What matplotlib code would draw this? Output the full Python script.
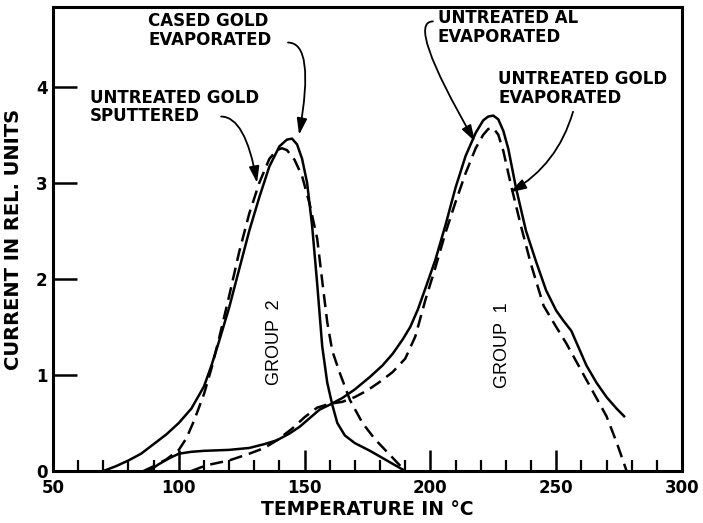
import matplotlib
matplotlib.use("Agg")
import matplotlib.pyplot as plt
from matplotlib.ticker import MultipleLocator

# group 2 curves
cased_x = [70, 75, 80, 85, 90, 95, 100, 105, 110, 113, 116, 120, 124, 128, 132, 136, 140, 143, 145,
           147, 149, 151, 153, 155, 157, 159, 161, 163, 166, 170, 176, 182, 186, 190]
cased_y = [0, 0.05, 0.11, 0.18, 0.28, 0.38, 0.5, 0.65, 0.88, 1.1, 1.35, 1.7, 2.1, 2.5, 2.85, 3.17, 3.38, 3.45, 3.46,
           3.4, 3.25, 3.0, 2.55, 1.95, 1.3, 0.92, 0.69, 0.5, 0.37, 0.29, 0.21, 0.12, 0.06, 0.0]

sputt_x = [86, 90, 95, 100, 103, 106, 110, 113, 116, 120, 124, 128, 132, 136, 139, 141, 143, 146, 149,
           152, 155, 157, 159, 161, 164, 168, 173, 178, 182, 186, 190]
sputt_y = [0, 0.05, 0.12, 0.22, 0.34, 0.52, 0.8, 1.07, 1.38, 1.82, 2.28, 2.68, 3.0, 3.25, 3.34, 3.36, 3.34, 3.24, 3.07,
           2.78, 2.42, 1.98, 1.55, 1.25, 1.02, 0.74, 0.5, 0.33, 0.22, 0.11, 0.0]

# group 1 curves
al_x = [88, 92, 96, 100, 105, 110, 120, 128, 134, 139, 144, 148, 152, 156, 160, 165, 170, 176, 181, 185, 189,
        192, 195, 198, 202, 206, 210, 214, 218, 221, 223, 225, 227, 229, 231, 234, 238, 242, 246, 250, 253,
        256, 258, 262, 266, 270, 274, 277]
al_y = [0, 0.07, 0.13, 0.18, 0.2, 0.21, 0.22, 0.24, 0.28, 0.32, 0.39, 0.46, 0.55, 0.64, 0.69, 0.76, 0.85, 0.98, 1.1, 1.22, 1.37,
        1.5, 1.68, 1.9, 2.2, 2.56, 2.95, 3.28, 3.52, 3.65, 3.69, 3.7, 3.66, 3.54, 3.35, 2.95, 2.5, 2.18, 1.88, 1.67, 1.56,
        1.46, 1.34, 1.1, 0.92, 0.77, 0.65, 0.57]

goldev_x = [105, 111, 120, 128, 134, 139, 145, 150, 155, 160, 165, 170, 175, 180, 185, 190, 194, 198, 202, 206,
            210, 214, 218, 221, 223, 225, 227, 229, 232, 236, 240, 245, 250, 254, 258, 262, 266, 270, 274, 278]
goldev_y = [0, 0.06, 0.11, 0.18, 0.24, 0.32, 0.44, 0.56, 0.66, 0.7, 0.72, 0.77, 0.84, 0.93, 1.03, 1.17, 1.4, 1.78, 2.12, 2.48,
            2.8, 3.1, 3.36, 3.5, 3.56, 3.57, 3.5, 3.33, 2.98, 2.55, 2.15, 1.72, 1.5, 1.33, 1.14, 0.95, 0.76, 0.57, 0.3, 0.0]

LW = 1.8
DASH = (0, (5.2, 2.8))
LETTER = dict(fontfamily="DejaVu Sans", fontweight="bold")

fig = plt.figure(figsize=(7.03, 5.23), dpi=100)
ax = fig.add_axes([0.0754, 0.0994, 0.8947, 0.8872])

ax.plot(cased_x, cased_y, color="black", lw=LW)
ax.plot(sputt_x, sputt_y, color="black", lw=LW, linestyle=DASH)
ax.plot(al_x, al_y, color="black", lw=LW)
ax.plot(goldev_x, goldev_y, color="black", lw=LW, linestyle=DASH)

ax.set_xlim(50, 300)
ax.set_ylim(0, 4.83)
for s in ax.spines.values():
    s.set_linewidth(2.2)

ax.xaxis.set_major_locator(MultipleLocator(50))
ax.xaxis.set_minor_locator(MultipleLocator(10))
ax.set_yticks([0, 1, 2, 3, 4])
ax.tick_params(axis="x", which="major", direction="in", length=15, width=1.8, pad=6, labelsize=12)
ax.tick_params(axis="x", which="minor", direction="in", length=8, width=1.6)
ax.tick_params(axis="y", which="major", direction="in", length=17, width=1.8, pad=4, labelsize=12)
for lab in ax.get_xticklabels() + ax.get_yticklabels():
    lab.set_fontweight("bold")

ax.set_xlabel("TEMPERATURE IN °C", fontsize=13.5, labelpad=2, **LETTER)
ax.set_ylabel("CURRENT IN REL. UNITS", fontsize=14, labelpad=9, **LETTER)

# labels and arrows
ax.text(87.8, 4.78, "CASED GOLD\nEVAPORATED", fontsize=12, va="top", ha="left", linespacing=1.05, **LETTER)
ax.text(64.7, 3.98, "UNTREATED GOLD\nSPUTTERED", fontsize=12, va="top", ha="left", linespacing=1.05, **LETTER)
ax.text(203, 4.81, "UNTREATED AL\nEVAPORATED", fontsize=12, va="top", ha="left", linespacing=1.05, **LETTER)
ax.text(226.9, 4.17, "UNTREATED GOLD\nEVAPORATED", fontsize=12, va="top", ha="left", linespacing=1.05, **LETTER)

head = dict(arrowstyle="-|>,head_length=0.7,head_width=0.22", color="black", lw=1.3,
            mutation_scale=14, shrinkA=0, shrinkB=0)
ax.annotate("", xy=(147.8, 3.5), xytext=(143.4, 4.46),
            arrowprops=dict(connectionstyle="angle3,angleA=0,angleB=80", **head))
ax.annotate("", xy=(131.1, 3.0), xytext=(116.8, 3.69),
            arrowprops=dict(connectionstyle="angle3,angleA=0,angleB=100", **head))
ax.annotate("", xy=(217.7, 3.43), xytext=(201, 4.68),
            arrowprops=dict(connectionstyle="angle3,angleA=0,angleB=120", **head))
ax.annotate("", xy=(231.6, 2.9), xytext=(256.7, 3.74),
            arrowprops=dict(connectionstyle="arc3,rad=-0.2", **head))

ax.text(138, 1.34, "GROUP  2", rotation=90, fontsize=13, ha="center", va="center", fontfamily="Liberation Sans")
ax.text(228.7, 1.31, "GROUP  1", rotation=90, fontsize=13, ha="center", va="center", fontfamily="Liberation Sans")

fig.savefig("out.png", dpi=100)
